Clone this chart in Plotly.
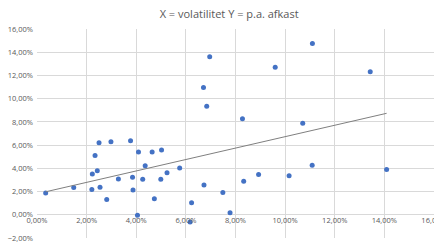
import plotly.graph_objects as go

# volatility (x, %) and p.a. return (y, %)
vol = [0.35, 1.48, 2.23, 2.21, 2.34, 2.43, 2.50, 2.54, 2.81, 2.98, 3.28, 3.77, 3.85, 3.87,
       4.09, 4.05, 4.26, 4.36, 4.64, 4.73, 4.99, 5.02, 5.24, 5.75, 6.17, 6.23, 6.73,
       6.96, 6.71, 6.84, 11.10, 9.60, 13.43, 8.28, 10.71,
       7.49, 7.78, 8.33, 8.93, 10.16, 11.09, 14.09]
ret = [1.88, 2.35, 3.51, 2.17, 5.11, 3.80, 6.20, 2.37, 1.32, 6.29, 3.08, 6.37, 3.23, 2.14,
       5.40, -0.05, 3.06, 4.23, 5.40, 1.37, 3.06, 5.57, 3.63, 4.03, -0.63, 1.03, 2.57,
       13.62, 10.96, 9.34, 14.76, 12.71, 12.31, 8.26, 7.88,
       1.92, 0.17, 2.89, 3.46, 3.37, 4.26, 3.89]

# linear trendline endpoints
trend_x = [0.35, 14.09]
trend_y = [1.98, 8.74]

title_text = "X = volatilitet Y = p.a. afkast"

fig = go.Figure()
fig.add_trace(go.Scatter(
    x=[v / 100 for v in vol], y=[r / 100 for r in ret], mode="markers",
    marker=dict(color="#4472C4", size=5, line=dict(width=0)),
    showlegend=False, hoverinfo="skip", cliponaxis=False))
fig.add_trace(go.Scatter(
    x=[v / 100 for v in trend_x], y=[r / 100 for r in trend_y], mode="lines",
    line=dict(color="#7F7F7F", width=1),
    showlegend=False, hoverinfo="skip"))

grid = "#D9D9D9"
H = 245
fig.update_layout(
    width=434, height=H,
    margin=dict(l=37, r=0, t=29, b=7, autoexpand=False),
    paper_bgcolor="white", plot_bgcolor="white",
    separators=",.",
    font=dict(family="Open Sans", color="#595959"),
    title=dict(text=title_text, x=0.484, xref="paper", y=1 - 14 / H, yref="container",
               xanchor="center", yanchor="middle", automargin=False,
               font=dict(size=11, color="#595959")),
    xaxis=dict(range=[0, 0.16], dtick=0.02, tickformat=".2%", showgrid=True,
               gridcolor=grid, gridwidth=1, zeroline=False, showline=False,
               anchor="free", position=0.02 / 0.18, ticks="", automargin=False,
               ticklabeloverflow="allow",
               tickfont=dict(size=7.5, color="#595959")),
    yaxis=dict(range=[-0.02, 0.16], dtick=0.02, tickformat=".2%", showgrid=True,
               gridcolor=grid, gridwidth=1, zeroline=False, showline=False, ticks="",
               automargin=False, ticklabelstandoff=3,
               tickfont=dict(size=7.5, color="#595959")),
)
fig.write_html("out.html", config={"displayModeBar": False},
               post_script="document.body.style.margin='0';")
